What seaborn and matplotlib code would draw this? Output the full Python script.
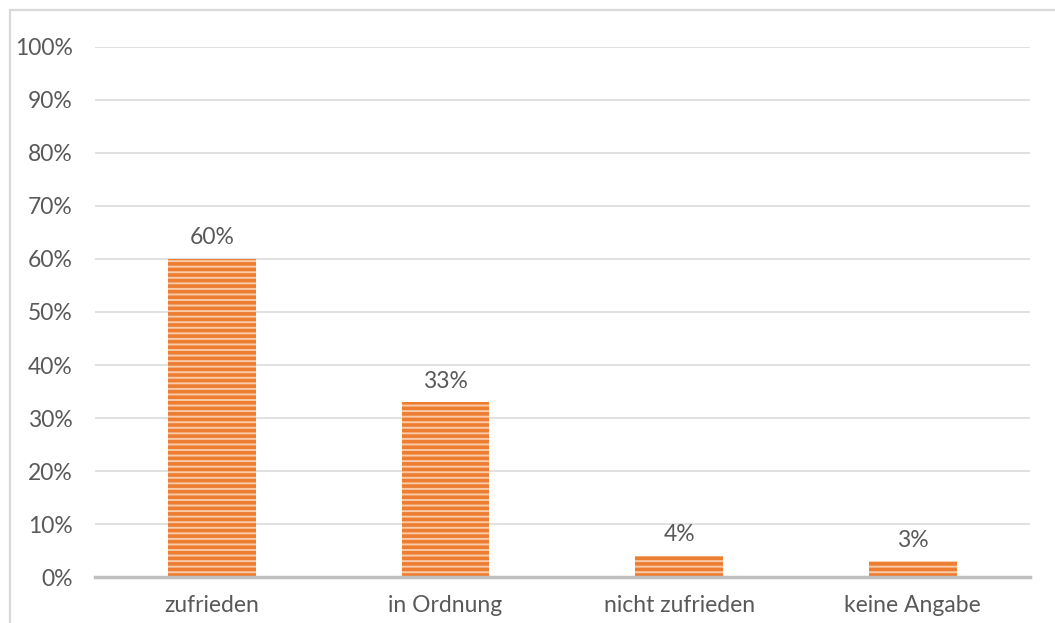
import matplotlib
matplotlib.use("Agg")
import matplotlib.pyplot as plt
from matplotlib.patches import Rectangle
import seaborn as sns
import pandas as pd

categories = ["zufrieden", "in Ordnung", "nicht zufrieden", "keine Angabe"]
values = [60, 33, 4, 3]
y_ticks = [0, 10, 20, 30, 40, 50, 60, 70, 80, 90, 100]

sns.set_theme(style="white")
plt.rcParams["font.family"] = ["Lato", "DejaVu Sans"]
plt.rcParams["hatch.color"] = "#ED7D31"
plt.rcParams["hatch.linewidth"] = 2.6

text_color = "#595959"
grid_color = "#D9D9D9"

fig = plt.figure(figsize=(10.55, 6.23), dpi=100)
ax = fig.add_axes([0.090, 0.0738, 0.886, 0.8508])

df = pd.DataFrame({"Kategorie": categories, "Anteil": values})
sns.barplot(data=df, x="Kategorie", y="Anteil", ax=ax, width=0.376,
            color="#F9CBA9", saturation=1, zorder=3)

for bar in ax.patches:
    bar.set_hatch("---")
    bar.set_edgecolor("#ED7D31")
    bar.set_linewidth(0)

for bar, v in zip(ax.patches, values):
    ax.text(bar.get_x() + bar.get_width() / 2, v + 2.0, f"{v}%",
            ha="center", va="bottom", fontsize=16.5, color=text_color)

ax.set_ylim(0, 100)
ax.set_xlim(-0.5, len(categories) - 0.5)
ax.set_yticks(y_ticks)
ax.set_yticklabels([f"{t}%" for t in y_ticks])
ax.yaxis.grid(True, color=grid_color, linewidth=1.1, zorder=0)
ax.set_axisbelow(True)
ax.tick_params(axis="both", length=0, labelsize=16.5, colors=text_color)
ax.tick_params(axis="y", pad=16)
ax.tick_params(axis="x", pad=13)
ax.set_xlabel("")
ax.set_ylabel("")
for side in ["top", "right", "left"]:
    ax.spines[side].set_visible(False)
ax.spines["bottom"].set_color("#BFBFBF")
ax.spines["bottom"].set_linewidth(2.5)
ax.spines["bottom"].set_zorder(4)

# chart area frame
fig.patches.append(Rectangle((10 / 1055, -0.1), 1.2, 1.1 - 10 / 623,
                             transform=fig.transFigure, fill=False,
                             edgecolor="#D9D9D9", linewidth=1.6))

fig.savefig("out.png", dpi=100)
